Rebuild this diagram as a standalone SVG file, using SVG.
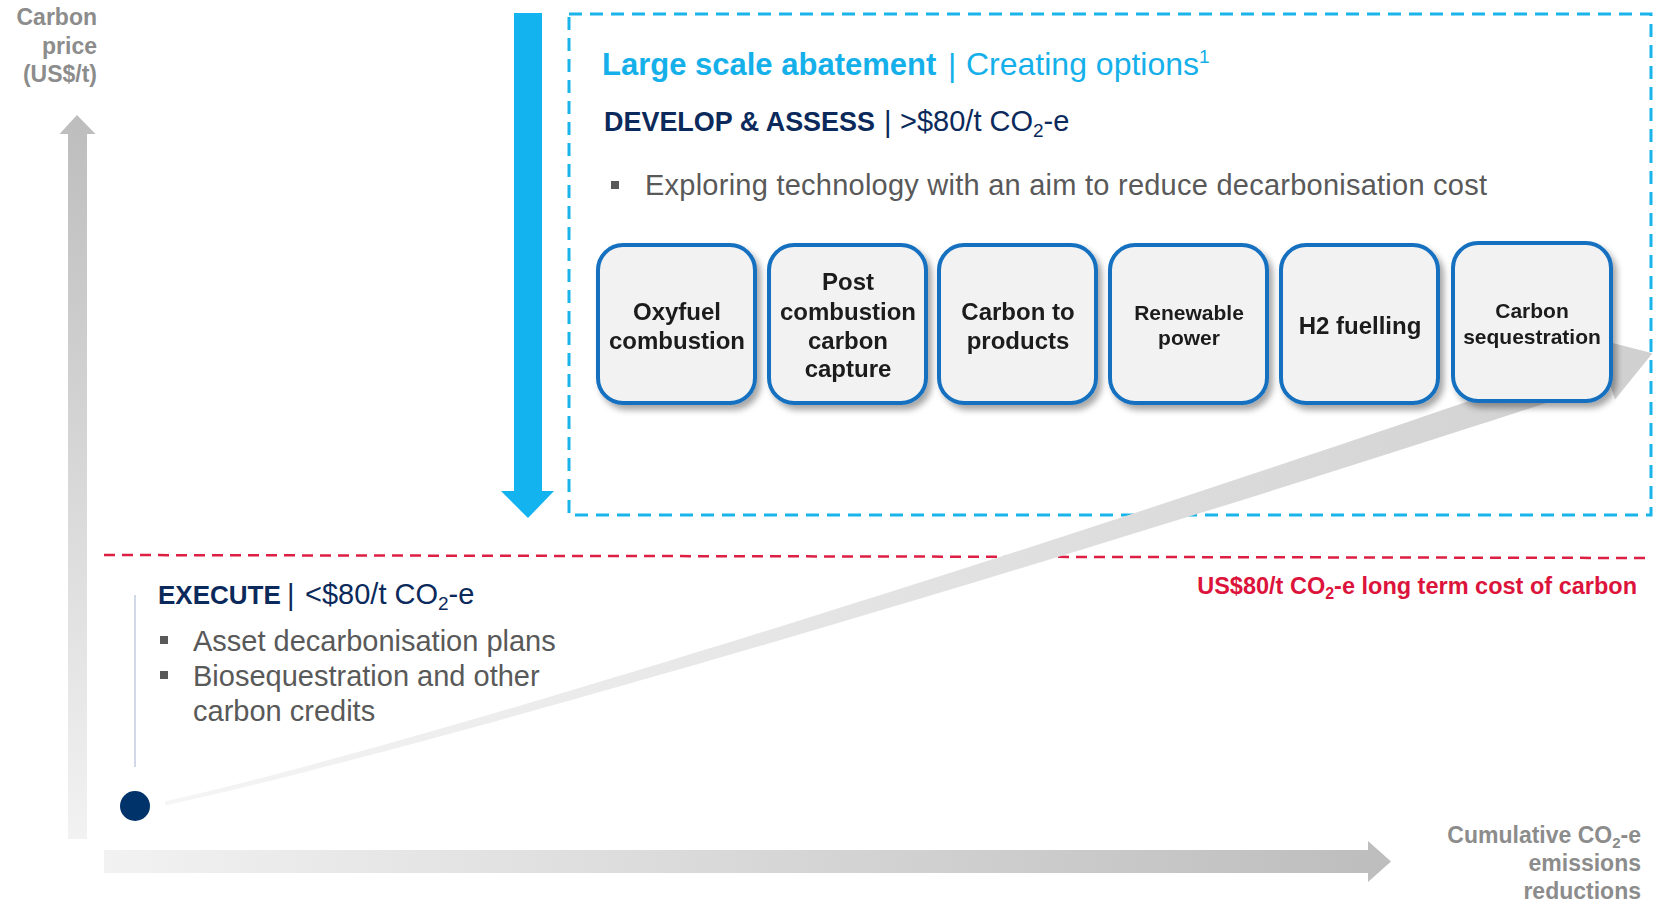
<svg xmlns="http://www.w3.org/2000/svg" width="1665" height="904" viewBox="0 0 1665 904">
<style>
text{font-family:"Liberation Sans",Arial,sans-serif}
.ax{font-weight:bold;fill:#8c8c8c;font-size:23px;text-anchor:end}
.bx rect{fill:#f2f2f2;stroke:#1570c0;stroke-width:4}
.bt{font-weight:bold;fill:#1a1a1a;text-anchor:middle}
.navy{fill:#0b2a5b}
.gray{fill:#595959}
.sky{fill:#15b0ea}
.bul{fill:#595959}
</style>
<defs>
<linearGradient id="gv" x1="0" y1="115" x2="0" y2="839" gradientUnits="userSpaceOnUse">
<stop offset="0" stop-color="#bdbdbd"/><stop offset="1" stop-color="#f2f2f2"/>
</linearGradient>
<linearGradient id="gh" x1="104" y1="0" x2="1391" y2="0" gradientUnits="userSpaceOnUse">
<stop offset="0" stop-color="#f2f2f2"/><stop offset="1" stop-color="#bdbdbd"/>
</linearGradient>
<linearGradient id="gc" x1="165" y1="0" x2="1652" y2="0" gradientUnits="userSpaceOnUse">
<stop offset="0" stop-color="#f5f5f5"/><stop offset="1" stop-color="#d0d0d0"/>
</linearGradient>
<filter id="sh" x="-20%" y="-20%" width="150%" height="150%">
<feDropShadow dx="4" dy="5" stdDeviation="3" flood-color="#000" flood-opacity="0.35"/>
</filter>
</defs>
<rect width="1665" height="904" fill="#fff"/>

<g id="axis-labels">
<text class="ax" x="97" y="25">Carbon</text>
<text class="ax" x="97" y="54">price</text>
<text class="ax" x="97" y="82">(US$/t)</text>
<text class="ax" x="1641" y="843">Cumulative CO<tspan font-size="15" dy="5">2</tspan><tspan dy="-5">-e</tspan></text>
<text class="ax" x="1641" y="871">emissions</text>
<text class="ax" x="1641" y="899">reductions</text>
</g>

<g id="connectors">
<path id="y-axis" d="M68,839 L68,134 L59.5,134 L77,115 L95.5,134 L87,134 L87,839 Z" fill="url(#gv)"/>
<path id="x-axis" d="M104,850 L1368,850 L1368,841 L1391,861.5 L1368,882 L1368,873 L104,873 Z" fill="url(#gh)"/>
<path id="threshold" d="M104,555 L1646,558" stroke="#dc1f43" stroke-width="2.5" stroke-dasharray="11 7" fill="none"/>
<line id="execute-rule" x1="135" y1="595" x2="135" y2="767" stroke="#c5cbe0" stroke-width="1.5"/>
<rect id="options-frame" x="569" y="14" width="1082" height="501" fill="none" stroke="#19b4e9" stroke-width="3" stroke-dasharray="13 8"/>
<path id="down-arrow" d="M514,13 L542,13 L542,491 L554,491 L528,518 L501,491 L514,491 Z" fill="#12b3ef"/>
<path id="curve-arrow" d="M165,801.5 C450,737 1100,530 1600.6,355.7 L1595,338.6 L1652.5,353.2 L1615,399.4 L1609.4,382.3 C1100,550 450,743 165,805.5 Z" fill="url(#gc)"/>
</g>

<g id="dot"><circle cx="135" cy="806" r="15" fill="#00336a"/></g>

<g id="header">
<text x="602" y="75" font-size="31" class="sky"><tspan font-weight="bold">Large scale abatement</tspan></text>
<text x="948" y="76" font-size="32" class="sky">|</text>
<text x="966" y="75" font-size="32" class="sky">Creating options<tspan font-size="19" dy="-12">1</tspan></text>
<text x="604" y="131" font-size="28" font-weight="bold" class="navy" textLength="271" lengthAdjust="spacingAndGlyphs">DEVELOP &amp; ASSESS</text>
<text x="884" y="132" font-size="29" class="navy">|</text>
<text x="900" y="131" font-size="29" class="navy">&gt;$80/t CO<tspan font-size="19" dy="6">2</tspan><tspan dy="-6">-e</tspan></text>
<rect x="611" y="181" width="8" height="8" class="bul"/>
<text x="645" y="195" font-size="29" class="gray" textLength="842" lengthAdjust="spacing">Exploring technology with an aim to reduce decarbonisation cost</text>
</g>

<g id="box-oxyfuel" class="bx" filter="url(#sh)">
<rect x="598" y="245" width="157" height="158" rx="25"/>
<text class="bt" x="677" y="319.5" font-size="24">Oxyfuel</text>
<text class="bt" x="677" y="348.5" font-size="24">combustion</text>
</g>
<g id="box-post-combustion" class="bx" filter="url(#sh)">
<rect x="769" y="245" width="157" height="158" rx="25"/>
<text class="bt" x="848" y="290" font-size="24">Post</text>
<text class="bt" x="848" y="319.5" font-size="24">combustion</text>
<text class="bt" x="848" y="348.5" font-size="24">carbon</text>
<text class="bt" x="848" y="377" font-size="24">capture</text>
</g>
<g id="box-carbon-products" class="bx" filter="url(#sh)">
<rect x="939" y="245" width="157" height="158" rx="25"/>
<text class="bt" x="1018" y="319.5" font-size="24">Carbon to</text>
<text class="bt" x="1018" y="348.5" font-size="24">products</text>
</g>
<g id="box-renewable" class="bx" filter="url(#sh)">
<rect x="1110" y="245" width="157" height="158" rx="25"/>
<text class="bt" x="1189" y="319.5" font-size="21">Renewable</text>
<text class="bt" x="1189" y="345" font-size="21">power</text>
</g>
<g id="box-h2" class="bx" filter="url(#sh)">
<rect x="1281" y="245" width="157" height="158" rx="25"/>
<text class="bt" x="1360" y="333.5" font-size="24">H2 fuelling</text>
</g>
<g id="box-sequestration" class="bx" filter="url(#sh)">
<rect x="1453" y="243" width="158" height="158" rx="25"/>
<text class="bt" x="1532" y="317.5" font-size="21">Carbon</text>
<text class="bt" x="1532" y="344" font-size="21">sequestration</text>
</g>

<g id="threshold-label">
<text x="1637" y="594" font-size="23.5" font-weight="bold" fill="#dc143c" text-anchor="end">US$80/t CO<tspan font-size="16" dy="5">2</tspan><tspan dy="-5">-e long term cost of carbon</tspan></text>
</g>

<g id="execute">
<text x="158" y="604" font-size="26" font-weight="bold" class="navy">EXECUTE</text>
<text x="287" y="605" font-size="29" class="navy">|</text>
<text x="305" y="604" font-size="29" class="navy">&lt;$80/t CO<tspan font-size="19" dy="6">2</tspan><tspan dy="-6">-e</tspan></text>
<rect x="160" y="636" width="8" height="8" class="bul"/>
<text x="193" y="651" font-size="29" class="gray">Asset decarbonisation plans</text>
<rect x="160" y="671" width="8" height="8" class="bul"/>
<text x="193" y="686" font-size="29" class="gray">Biosequestration and other</text>
<text x="193" y="721" font-size="29" class="gray">carbon credits</text>
</g>
</svg>
